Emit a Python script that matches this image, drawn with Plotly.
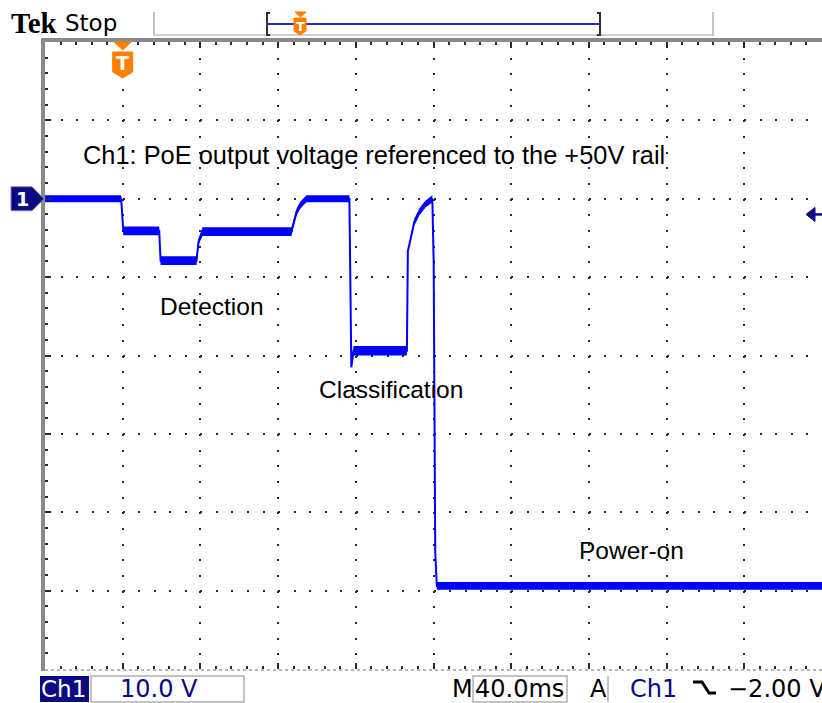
import plotly.graph_objects as go

# ---------------- data ----------------
time_ms = [-40.0, -0.8, 0.3, 18.8, 19.5, 38.0, 39.1, 41.1, 86.9, 87.9, 89.5, 91.5,
           94.6, 116.7, 117.2, 117.7, 118.8, 146.3, 146.8, 148.6, 150.1, 152.7,
           155.8, 159.4, 160.1, 160.9, 161.7, 360.0]
ch1_volts = [0.0, 0.0, -4.1, -4.1, -7.9, -7.9, -5.4, -4.2, -4.2, -3.1, -1.7, -0.8,
             0.0, 0.0, -12.4, -21.5, -19.4, -19.4, -6.7, -4.7, -3.0, -1.7,
             -0.7, 0.0, -8.1, -45.1, -49.4, -49.4]
noise_volts = [0.45, 0.45, 0.55, 0.55, 0.55, 0.55, 0.4, 0.55, 0.55, 0.45, 0.45, 0.45,
               0.45, 0.45, 0.0, 0.0, 0.6, 0.6, 0.2, 0.35, 0.45, 0.45,
               0.45, 0.45, 0.0, 0.0, 0.5, 0.5]

trace_labels = ["Ch1: PoE output voltage referenced to the +50V rail",
                "Detection", "Classification", "Power-on"]

volts_per_div = 10.0
ms_per_div = 40.0
trigger_time_ms = 0.0
trigger_level_v = -2.00
ground_ref_v = 0.0
x_range = [-40.0, 360.0]
y_range = [-60.0, 20.0]

# ---------------- geometry helpers ----------------
W, H = 822, 703
ML, MR, MT, MB = 45, 0, 42, 34
PW, PH = W - ML - MR, H - MT - MB
ms_per_px = (x_range[1] - x_range[0]) / PW
v_per_px = (y_range[1] - y_range[0]) / PH


def px(x):
    return (x - ML) / PW


def py(y):
    return (H - MB - y) / PH


NAVY = "#0a0a82"
ORANGE = "#ff7f00"
BLUE = "#0000ff"
GRID = "#2a2a2a"

fig = go.Figure()

upper = [v + n for v, n in zip(ch1_volts, noise_volts)]
lower = [v - n for v, n in zip(ch1_volts, noise_volts)]
fig.add_trace(go.Scatter(x=time_ms, y=lower, mode="lines", line=dict(width=0, color=BLUE),
                         hoverinfo="skip", showlegend=False))
fig.add_trace(go.Scatter(x=time_ms, y=upper, mode="lines", line=dict(width=0, color=BLUE),
                         fill="tonexty", fillcolor=BLUE, hoverinfo="skip", showlegend=False))
fig.add_trace(go.Scatter(x=time_ms, y=ch1_volts, mode="lines", line=dict(width=2, color=BLUE),
                         name="Ch1", showlegend=False))

shapes = []


def pline(x0, y0, x1, y1, color, width, dash=None):
    d = dict(type="line", xref="paper", yref="paper", x0=px(x0), x1=px(x1), y0=py(y0), y1=py(y1),
             line=dict(color=color, width=width))
    if dash:
        d["line"]["dash"] = dash
    shapes.append(d)


def ppath(pts, fill, line_color, width=1, closed=True):
    s = "M " + " L ".join(f"{px(x):.5f},{py(y):.5f}" for x, y in pts)
    if closed:
        s += " Z"
    shapes.append(dict(type="path", xref="paper", yref="paper", path=s,
                       fillcolor=fill, line=dict(color=line_color, width=width)))


# graticule borders
pline(43, 38, 43, 671, "#8a8a8a", 4)
pline(41, 40, 822, 40, "#8a8a8a", 4)
pline(45, 670, 822, 670, "#a0a0a0", 1.5, "dot")

# header
pline(154, 12, 154, 36, "#c4c4c4", 2)
pline(154, 35, 713, 35, "#cfcfcf", 2)
pline(713, 12, 713, 36, "#c4c4c4", 2)
pline(268, 24, 599, 24, "#2b2bb5", 2)
ppath([(270, 13), (267, 13), (267, 35), (270, 35)], "rgba(0,0,0,0)", "#303030", 2, closed=False)
ppath([(597, 13), (600, 13), (600, 35), (597, 35)], "rgba(0,0,0,0)", "#303030", 2, closed=False)
ppath([(295, 12), (306, 12), (300.5, 17)], ORANGE, ORANGE)
ppath([(294, 18), (306, 18), (306, 31), (300, 35), (294, 31)], ORANGE, ORANGE)

# main trigger-position marker (placed at trigger time on the x axis)
tx = trigger_time_ms
mpx = ms_per_px
shapes.append(dict(type="path", xref="x", yref="paper",
                   path=(f"M {tx - 8.5 * mpx},{py(42)} L {tx + 8.5 * mpx},{py(42)} "
                         f"L {tx},{py(50)} Z"),
                   fillcolor=ORANGE, line=dict(color=ORANGE, width=1)))
shapes.append(dict(type="path", xref="x", yref="paper",
                   path=(f"M {tx - 10 * mpx},{py(52)} L {tx + 10 * mpx},{py(52)} "
                         f"L {tx + 10 * mpx},{py(72)} L {tx},{py(78)} L {tx - 10 * mpx},{py(72)} Z"),
                   fillcolor=ORANGE, line=dict(color=ORANGE, width=1)))

# Ch1 ground reference marker
g = ground_ref_v
vp = v_per_px
shapes.append(dict(type="path", xref="paper", yref="y",
                   path=(f"M {px(11)},{g + 12 * vp} L {px(32)},{g + 12 * vp} L {px(44)},{g} "
                         f"L {px(32)},{g - 12 * vp} L {px(11)},{g - 12 * vp} Z"),
                   fillcolor=NAVY, line=dict(color="#8080c0", width=1)))

# trigger level arrow on the right
tl = trigger_level_v
shapes.append(dict(type="path", xref="paper", yref="y",
                   path=(f"M {px(806)},{tl} L {px(815)},{tl + 7 * vp} L {px(815)},{tl - 7 * vp} Z"),
                   fillcolor=NAVY, line=dict(color=NAVY, width=1)))
shapes.append(dict(type="line", xref="paper", yref="y", x0=px(812), x1=px(822), y0=tl, y1=tl,
                   line=dict(color=NAVY, width=2.5)))

# footer boxes
shapes.append(dict(type="rect", xref="paper", yref="paper", x0=px(40), x1=px(89), y0=py(676), y1=py(702),
                   fillcolor=NAVY, line=dict(color=NAVY, width=0)))
shapes.append(dict(type="rect", xref="paper", yref="paper", x0=px(91), x1=px(244), y0=py(676), y1=py(702),
                   fillcolor="rgba(0,0,0,0)", line=dict(color="#b0b0b0", width=1.5)))
shapes.append(dict(type="rect", xref="paper", yref="paper", x0=px(473), x1=px(567), y0=py(676), y1=py(702),
                   fillcolor="rgba(0,0,0,0)", line=dict(color="#b0b0b0", width=1.5)))
pline(608, 676, 608, 702, "#b0b0b0", 1.5)
ppath([(693, 682), (702, 682), (709, 693), (716, 693)], "rgba(0,0,0,0)", "#000000", 3, closed=False)

annotations = []


def ptext(x, y, text, size, color="#000", family="DejaVu Sans", anchor="left"):
    annotations.append(dict(xref="paper", yref="paper", x=px(x), y=py(y), text=text, showarrow=False,
                            xanchor=anchor, yanchor="middle",
                            font=dict(size=size, color=color, family=family)))


ptext(9, 23, "<b>Tek</b>", 29, "#000", "Liberation Serif")
ptext(63, 23, "Stop", 23)
ptext(300.5, 27, "<b>T</b>", 13, "#fff", anchor="center")
annotations.append(dict(xref="x", yref="paper", x=trigger_time_ms, y=py(63), text="<b>T</b>",
                        showarrow=False, xanchor="center", yanchor="middle",
                        font=dict(size=19, color="#fff", family="DejaVu Sans")))
annotations.append(dict(xref="paper", yref="y", x=px(22), y=ground_ref_v, text="<b>1</b>",
                        showarrow=False, xanchor="center", yanchor="middle",
                        font=dict(size=19, color="#fff", family="DejaVu Sans")))

# footer text
ptext(39, 689, "Ch1", 23, "#fff")
ptext(118, 689, f"{volts_per_div:.1f} V", 24, NAVY)
ptext(450, 689, "M", 24)
ptext(473, 689, f"{ms_per_div:.1f}ms", 24)
ptext(588, 689, "A", 24)
ptext(628, 689, "Ch1", 24, NAVY)
ptext(726, 689, f"\u2212{abs(trigger_level_v):.2f} V", 24)

# chart labels (data coordinates)
label_pos = [(-21.5, 5.6), (18.0, -13.8), (100.2, -24.4), (233.9, -44.9)]
label_size = [25.4, 24.5, 24.5, 24.5]
for text, (lx, ly), fs in zip(trace_labels, label_pos, label_size):
    annotations.append(dict(xref="x", yref="y", x=lx, y=ly, text=text, showarrow=False,
                            xanchor="left", yanchor="middle",
                            font=dict(size=fs, color="#000", family="Liberation Sans")))

x_dot = PH / 40.0
y_dot = PW / 50.0
fig.update_layout(
    width=W, height=H,
    margin=dict(l=ML, r=MR, t=MT, b=MB, pad=0),
    paper_bgcolor="#ffffff", plot_bgcolor="#ffffff",
    shapes=shapes, annotations=annotations,
    xaxis=dict(range=x_range, dtick=ms_per_div, tick0=0, showgrid=True, gridcolor=GRID, gridwidth=2,
               griddash=f"2px,{x_dot - 2:.3f}px", zeroline=False, showticklabels=False,
               ticks="inside", ticklen=6, tickwidth=1.5, tickcolor=GRID, mirror="ticks",
               minor=dict(dtick=ms_per_div / 5, ticks="inside", ticklen=3, tickwidth=1.5,
                          tickcolor=GRID, showgrid=False),
               fixedrange=True),
    yaxis=dict(range=y_range, dtick=volts_per_div, tick0=0, showgrid=True, gridcolor=GRID, gridwidth=2,
               griddash=f"2px,{y_dot - 2:.3f}px", zeroline=False, showticklabels=False,
               ticks="inside", ticklen=6, tickwidth=1.5, tickcolor=GRID,
               minor=dict(dtick=volts_per_div / 5, ticks="inside", ticklen=3, tickwidth=1.5,
                          tickcolor=GRID, showgrid=False),
               fixedrange=True),
)

fig.write_html("out.html", config={"displayModeBar": False},
               post_script="document.body.style.margin='0';document.body.style.overflow='hidden';")
